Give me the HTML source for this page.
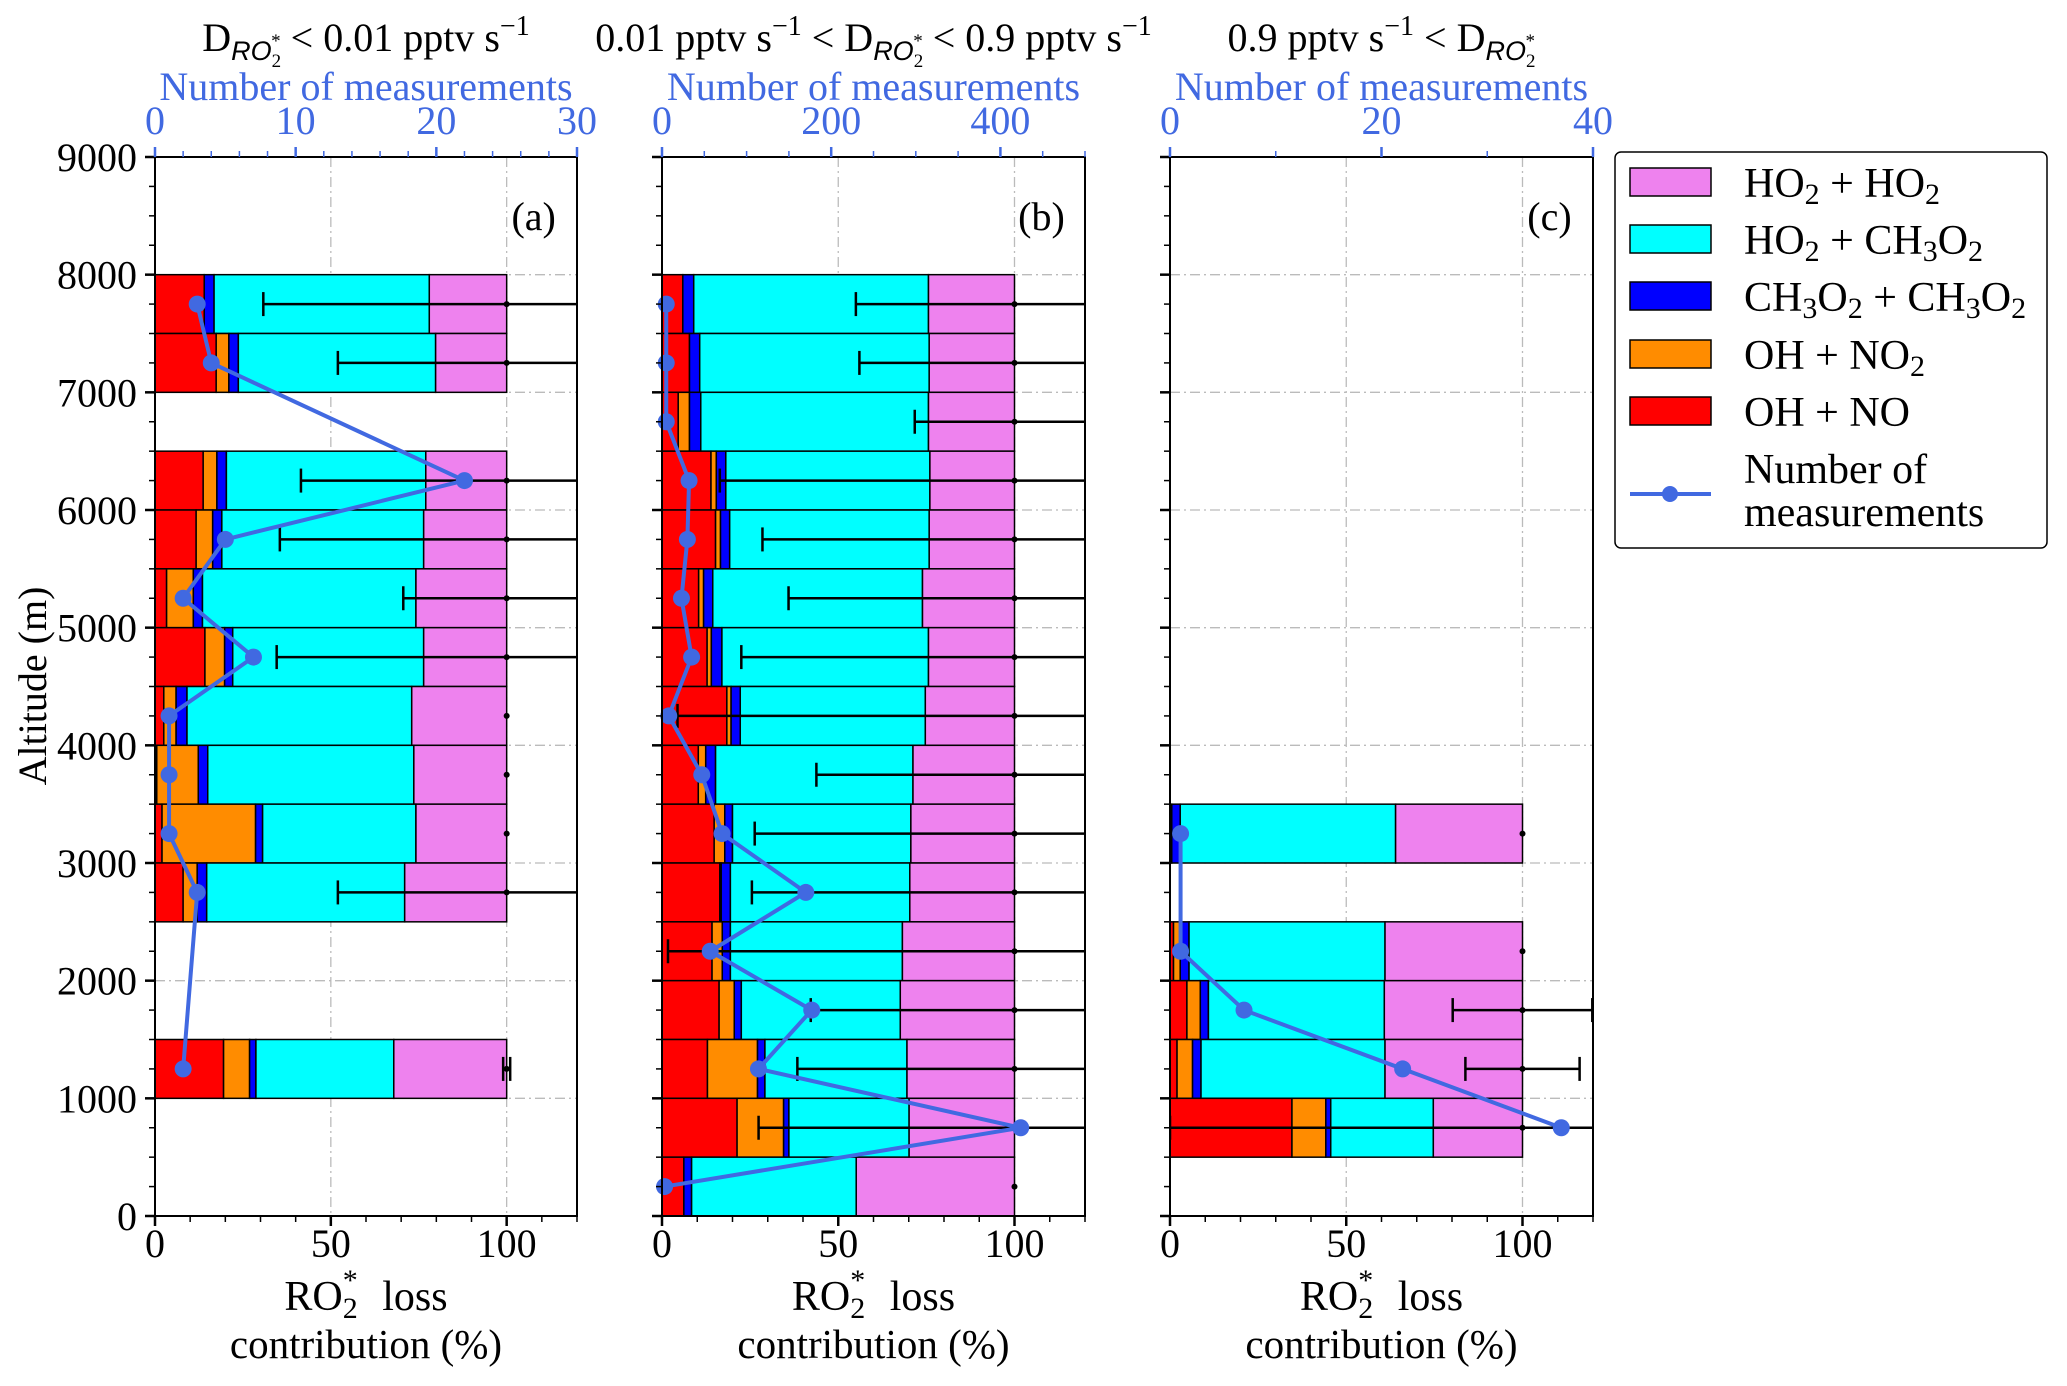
<!DOCTYPE html>
<html><head><meta charset="utf-8"><style>
html,body{margin:0;padding:0;background:#fff;}
svg{display:block;font-family:"Liberation Serif",serif;}
</style></head><body>
<svg id="chart" width="2067" height="1386" viewBox="0 0 2067 1386" xmlns="http://www.w3.org/2000/svg">
<rect x="0" y="0" width="2067" height="1386" fill="#fff"/>
<text x="0" y="0" transform="translate(46,686) rotate(-90)" text-anchor="middle" font-size="40">Altitude (m)</text>
<g id="legend">
<rect x="1615" y="152" width="432" height="396" rx="6" fill="#fff" stroke="#000" stroke-width="1.5"/>
<g><rect x="1630" y="168" width="81" height="28" fill="violet" stroke="#000" stroke-width="1.5"/><text x="1744" y="197" font-size="42">HO<tspan font-size="30" dy="7">2</tspan><tspan dy="-7"> + HO</tspan><tspan font-size="30" dy="7">2</tspan></text></g>
<g><rect x="1630" y="225" width="81" height="28" fill="cyan" stroke="#000" stroke-width="1.5"/><text x="1744" y="254" font-size="42">HO<tspan font-size="30" dy="7">2</tspan><tspan dy="-7"> + CH</tspan><tspan font-size="30" dy="7">3</tspan><tspan dy="-7">O</tspan><tspan font-size="30" dy="7">2</tspan></text></g>
<g><rect x="1630" y="282" width="81" height="28" fill="blue" stroke="#000" stroke-width="1.5"/><text x="1744" y="311" font-size="42">CH<tspan font-size="30" dy="7">3</tspan><tspan dy="-7">O</tspan><tspan font-size="30" dy="7">2</tspan><tspan dy="-7"> + CH</tspan><tspan font-size="30" dy="7">3</tspan><tspan dy="-7">O</tspan><tspan font-size="30" dy="7">2</tspan></text></g>
<g><rect x="1630" y="340" width="81" height="28" fill="darkorange" stroke="#000" stroke-width="1.5"/><text x="1744" y="369" font-size="42">OH + NO<tspan font-size="30" dy="7">2</tspan></text></g>
<g><rect x="1630" y="397" width="81" height="28" fill="red" stroke="#000" stroke-width="1.5"/><text x="1744" y="426" font-size="42">OH + NO</text></g>
<g><line x1="1630" y1="494" x2="1711" y2="494" stroke="royalblue" stroke-width="4"/><circle cx="1670" cy="494" r="8" fill="royalblue"/><text x="1744" y="483" font-size="42">Number of</text><text x="1744" y="526" font-size="42">measurements</text></g>
</g>
</svg>
<script>
const altBinsA = [7750,7250,6250,5750,5250,4750,4250,3750,3250,2750,1250];
const redA = [14,17.4,13.7,11.7,3.3,14.2,2.5,0.5,2,8,19.5];
const orangeA = [0,3.6,3.9,4.7,7.6,5.6,3.5,11.8,26.6,4,7.4];
const blueA = [2.8,2.7,2.7,2.6,2.6,2.3,3.1,2.7,2,2.7,1.8];
const cyanA = [61.2,56.1,56.7,57.4,60.7,54.3,63.9,58.6,43.6,56.3,39.2];
const errLeftA = [30.8,52,41.5,35.5,70.6,34.6,null,null,null,52,99];
const countA = [3,4,22,5,2,7,1,1,1,3,2];
const countTicksA = [0,10,20,30];

const altBinsB = [7750,7250,6750,6250,5750,5250,4750,4250,3750,3250,2750,2250,1750,1250,750,250];
const redB = [5.9,7.8,4.6,13.9,15.2,10.4,12.8,18.4,10.3,14.8,16.4,14.2,16.2,12.9,21.3,6.2];
const orangeB = [0,0,3.2,1.5,1.4,1.4,1.2,1.2,2.1,3,0.4,2.9,4.3,14.2,13.2,0];
const blueB = [3.1,2.9,3.2,2.7,2.6,2.6,3,2.6,2.8,2.2,2.6,2.3,2,2.1,1.5,2.2];
const cyanB = [66.6,65.1,64.6,57.9,56.6,59.5,58.6,52.5,56,50.6,50.9,48.8,45.1,40.3,34.1,46.7];
const errLeftB = [55,56,71.7,16.4,28.5,35.9,22.5,4.4,43.8,26.3,25.5,1.7,42.2,38.4,27.4,null];
const countB = [5,5,5,32,30,23,35,8,47,71,170,57,177,114,424,3];
const countTicksB = [0,200,400];

const altBinsC = [3250,2250,1750,1250,750];
const redC = [0.5,1,4.8,2,34.6];
const orangeC = [0,1.9,3.8,4.4,9.6];
const blueC = [2.4,2.5,2.3,2.4,1.4];
const cyanC = [61.1,55.6,49.9,52.2,29.1];
const errLeftC = [null,null,80.2,83.8,0];
const countC = [1,1,7,22,37];
const countTicksC = [0,20,40];

const NS = "http://www.w3.org/2000/svg";
const svg = document.getElementById('chart');
function mk(tag, attrs, parent){ const e=document.createElementNS(NS,tag); for(const k in attrs) e.setAttribute(k,attrs[k]); (parent||svg).appendChild(e); return e; }

const Y0=1216, Y9=157;
function yS(a){ return Y0-(a/9000)*(Y0-Y9); }

const panels = [
 {id:'a', x0:155, x1:577, cmax:30, cminor:2, ticks:countTicksA, bins:altBinsA, red:redA, orange:orangeA, blue:blueA, cyan:cyanA, err:errLeftA, count:countA, label:true},
 {id:'b', x0:662, x1:1085, cmax:500, cminor:50, ticks:countTicksB, bins:altBinsB, red:redB, orange:orangeB, blue:blueB, cyan:cyanB, err:errLeftB, count:countB, label:false},
 {id:'c', x0:1170, x1:1593, cmax:40, cminor:10, ticks:countTicksC, bins:altBinsC, red:redC, orange:orangeC, blue:blueC, cyan:cyanC, err:errLeftC, count:countC, label:false}
];

panels.forEach((p,pi)=>{
  const g = mk('g',{});
  
  
  const xS = v => p.x0 + v/120*(p.x1-p.x0);
  const cS = v => p.x0 + v/p.cmax*(p.x1-p.x0);
  const clipId='clip'+p.id;
  const cp = mk('clipPath',{id:clipId},g); mk('rect',{x:p.x0,y:Y9,width:p.x1-p.x0,height:Y0-Y9},cp);
  [50,100].forEach(v=>{ const l=mk('line',{x1:xS(v),x2:xS(v),y1:Y9,y2:Y0,stroke:'#bbb','stroke-width':1.3,'stroke-dasharray':'10 4 2 4'},g);   });
  for(let a=1000;a<9000;a+=1000){ const l=mk('line',{x1:p.x0,x2:p.x1,y1:yS(a),y2:yS(a),stroke:'#bbb','stroke-width':1.3,'stroke-dasharray':'10 4 2 4'},g);   }
  const colors=['red','darkorange','blue','cyan','violet'];
  const names=['oh-no','oh-no2','ch3o2-ch3o2','ho2-ch3o2','ho2-ho2'];
  p.bins.forEach((alt,i)=>{
    const vals=[p.red[i],p.orange[i],p.blue[i],p.cyan[i]];
    vals.push(100-vals.reduce((s,v)=>s+v,0));
    let acc=0;
    const yt=yS(alt+250), yb=yS(alt-250);
    vals.forEach((v,k)=>{
      if(v>0){
        const r=mk('rect',{x:xS(acc),y:yt,width:xS(acc+v)-xS(acc),height:yb-yt,fill:colors[k],stroke:'#000','stroke-width':1.5},g);
        
        
      }
      acc+=v;
    });
  });
  const eg=mk('g',{'clip-path':'url(#'+clipId+')'},g);
  p.bins.forEach((alt,i)=>{
    const y=yS(alt);
    if(p.err[i]!==null){
      const lft=p.err[i], rgt=200-lft;
      const l=mk('line',{x1:xS(lft),x2:xS(rgt),y1:y,y2:y,stroke:'#000','stroke-width':2.5},eg);
      
      
      mk('line',{x1:xS(lft),x2:xS(lft),y1:y-12,y2:y+12,stroke:'#000','stroke-width':2.5},eg);
      mk('line',{x1:xS(rgt),x2:xS(rgt),y1:y-12,y2:y+12,stroke:'#000','stroke-width':2.5},eg);
    }
    mk('circle',{cx:xS(100),cy:y,r:3,fill:'#000'},eg);
  });
  const pts=p.bins.map((alt,i)=>cS(p.count[i])+','+yS(alt)).join(' ');
  const pl=mk('polyline',{points:pts,fill:'none',stroke:'royalblue','stroke-width':4,'stroke-linejoin':'round'},g);
  
  
  p.bins.forEach((alt,i)=>{
    const c=mk('circle',{cx:cS(p.count[i]),cy:yS(alt),r:8.5,fill:'royalblue'},g);
    
    
  });
  mk('rect',{x:p.x0,y:Y9,width:p.x1-p.x0,height:Y0-Y9,fill:'none',stroke:'#000','stroke-width':2},g);
  for(let a=0;a<=9000;a+=250){
    const major=a%1000===0;
    mk('line',{x1:p.x0-(major?10:6),x2:p.x0,y1:yS(a),y2:yS(a),stroke:'#000','stroke-width':major?2.5:1.5},g);
    if(major && p.label){
      const t=mk('text',{x:137,y:yS(a)+14,'text-anchor':'end','font-size':40},g);
      t.textContent=a;
      
      
    }
  }
  for(let v=0;v<=120;v+=10){
    const major=v%50===0;
    mk('line',{x1:xS(v),x2:xS(v),y1:Y0,y2:Y0+(major?10:6),stroke:'#000','stroke-width':major?2.5:1.5},g);
    if(major){
      const t=mk('text',{x:xS(v),y:1257,'text-anchor':'middle','font-size':40},g);
      t.textContent=v;
      
      
    }
  }
  for(let v=0;v<=p.cmax+1e-9;v+=p.cminor){
    const major=p.ticks.indexOf(v)>=0;
    mk('line',{x1:cS(v),x2:cS(v),y1:Y9,y2:Y9-(major?10:6),stroke:'royalblue','stroke-width':major?2.5:1.5},g);
  }
  p.ticks.forEach(v=>{
    const t=mk('text',{x:cS(v),y:134,'text-anchor':'middle','font-size':40,fill:'royalblue'},g);
    t.textContent=v;
    
    
  });
  const cx=(p.x0+p.x1)/2;
  const ct=mk('text',{x:cx,y:100,'text-anchor':'middle','font-size':40,fill:'royalblue'},g);
  ct.textContent='Number of measurements';
  
  
  const xl=mk('text',{x:cx,y:1310,'text-anchor':'middle','font-size':42},g);
  xl.innerHTML='RO<tspan font-size="30" dy="8">2</tspan><tspan font-size="30" dx="-15" dy="-28">*</tspan><tspan dy="20" dx="14">  loss</tspan>';
  
  
  const xl2=mk('text',{x:cx,y:1358,'text-anchor':'middle','font-size':41},g);
  xl2.textContent='contribution (%)';
  
  
  const pl2=mk('text',{x:xS(100)+27,y:yS(8500)+14,'text-anchor':'middle','font-size':40},g);
  pl2.textContent='('+p.id+')';
  
  
  const tt=mk('text',{x:cx,y:51,'text-anchor':'middle','font-size':40},g);
  const D='D<tspan font-size="27" font-style="italic" font-family="Liberation Sans, sans-serif" dy="9">RO</tspan><tspan font-size="19" dy="7">2</tspan><tspan font-size="19" dx="-10" dy="-20">*</tspan><tspan dy="4"> </tspan>';
  const S='pptv s<tspan font-size="28" dy="-16">−1</tspan><tspan dy="16"> </tspan>';
  if(pi===0) tt.innerHTML=D+'&lt; 0.01 '+S;
  else if(pi===1) tt.innerHTML='0.01 '+S+'&lt; '+D+' &lt; 0.9 '+S;
  else tt.innerHTML='0.9 '+S+'&lt; '+D;
  
  
});
</script>
</body></html>
